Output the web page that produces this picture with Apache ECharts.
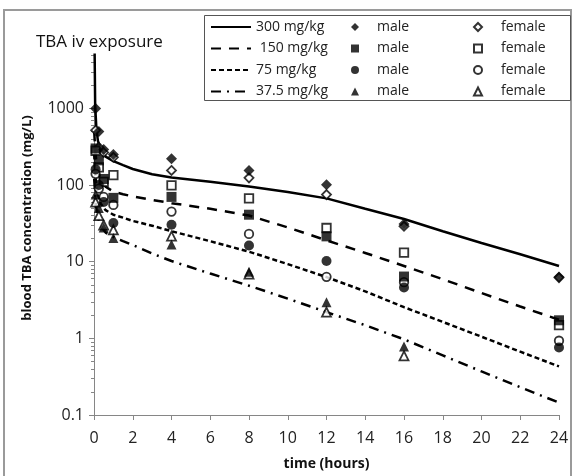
<!DOCTYPE html>
<html>
<head>
<meta charset="utf-8">
<script src="https://cdn.jsdelivr.net/npm/echarts@6/dist/echarts.min.js"></script>
<style>
html,body{margin:0;padding:0;background:#fff;}
#chart{width:573px;height:476px;}
</style>
</head>
<body>
<div id="chart"></div>
<script>
// ---- data ----
const sampleTimes = [0.083, 0.25, 0.5, 1, 4, 8, 12, 16, 24];
const male300   = [1000, 500, 290, 250, 220, 155, 101, 31, 6.3];
const female300 = [520, 310, 265, 230, 155, 124, 75, 29, 6.2];
const male150   = [300, 210, 120, 68, 70, 41, 21.4, 6.4, 1.72];
const female150 = [280, 170, 110, 135, 99, 67, 27.5, 13.1, 1.49];
const male75    = [160, 100, 60, 32, 30.3, 16.3, 10.2, 4.6, 0.76];
const female75  = [140, 90, 70, 55, 45, 23, 6.35, 5.4, 0.93];
const male37    = [75, 50, 28, 20.4, 16.7, 7.4, 2.96, 0.78, null];
const female37  = [60, 40, 30, 26, 21.5, 6.9, 2.2, 0.59, null];

const curveTimes = [0.01, 0.06, 0.12, 0.2, 0.35, 0.6, 1, 1.5, 2, 3, 4, 6, 8, 10, 12, 14, 16, 18, 20, 22, 24];
const fit300  = [20000, 1100, 560, 380, 285, 235, 205, 182, 162, 138, 125, 110, 96, 81, 67, 49, 36, 25, 17.5, 12.5, 8.8];
const fit150  = [500, 300, 200, 150, 115, 95, 82, 76, 71, 64, 58, 49, 40, 28, 19, 13, 8.8, 5.9, 3.9, 2.6, 1.75];
const fit75   = [250, 150, 100, 75, 57, 47, 41, 37.5, 34, 29.5, 25, 18.5, 13.5, 9.3, 6.3, 4.1, 2.55, 1.64, 1.05, 0.67, 0.43];
const fit37   = [120, 75, 50, 38, 29, 24, 21, 18.5, 16.5, 12.8, 10.2, 7.0, 4.86, 3.3, 2.2, 1.48, 0.97, 0.6, 0.37, 0.23, 0.145];

const doseLabels = ['300 mg/kg', ' 150 mg/kg', '75 mg/kg', '37.5 mg/kg'];
const xTicks = [0, 2, 4, 6, 8, 10, 12, 14, 16, 18, 20, 22, 24];
const yMajor = [0.1, 1, 10, 100, 1000];
const yMinorMult = [2, 3, 4, 5, 6, 7, 8, 9];

const FONT = 'Open Sans';
const AX = '#868686';

function pairs(ts, vs){ return ts.map((t,i)=>[t, vs[i]]).filter(p=>p[1]!=null); }
const yMinor = [];
yMajor.slice(0,4).forEach(d=>yMinorMult.forEach(m=>yMinor.push(+(d*m).toPrecision(3))));
[2,3,4,5].forEach(m=>yMinor.push(1000*m));

const lineStyles = [
  {type:'solid', width:2.5},
  {type:[10,8], width:2.5},
  {type:[5,3], width:2.5},
  {type:[10,6,2,6], width:2.5}
];
const fits = [fit300, fit150, fit75, fit37];
const males = [male300, male150, male75, male37];
const females = [female300, female150, female75, female37];
const shapes = ['diamond', 'rect', 'circle', 'triangle'];
const mSize = [11, 10, 10, 10];
const fSize = [9, 8.5, 8.5, 9];

const series = [];
fits.forEach((f,i)=>{
  series.push({
    name: doseLabels[i], type:'line', data: pairs(curveTimes, f),
    showSymbol:false, symbol:'none', smooth:false, clip:true,
    lineStyle: Object.assign({color:'#000'}, lineStyles[i]),
    itemStyle:{color:'#000'}, z:2, silent:true
  });
});
females.forEach((d,i)=>{
  series.push({
    name: 'f'+i, type:'scatter', data: pairs(sampleTimes, d),
    symbol: shapes[i], symbolSize: fSize[i],
    itemStyle:{color:'#fff', borderColor:'#000', borderWidth:1.8}, z:3
  });
});
males.forEach((d,i)=>{
  series.push({
    name: 'm'+i, type:'scatter', data: pairs(sampleTimes, d),
    symbol: shapes[i], symbolSize: mSize[i],
    itemStyle:{color:'#000'}, z:4
  });
});

const legendCommon = {
  orient:'vertical', itemGap:7.5, selectedMode:false, top:15, z:60,
  textStyle:{fontFamily:FONT, fontSize:14, color:'#222'}
};

const chart = echarts.init(document.getElementById('chart'), null, {renderer:'canvas'});
chart.setOption({
  animation:false,
  backgroundColor:'#fff',
  title:{text:'TBA iv exposure', left:31, top:29,
    textStyle:{fontFamily:FONT, fontSize:17, fontWeight:'normal', color:'#111'}},
  grid:{left:94, right:14, top:54.8, bottom:57, containLabel:false},
  graphic:[
    {type:'rect', z:-10, shape:{x:4, y:10, width:567, height:480},
      style:{fill:'none', stroke:'#9a9a9a', lineWidth:2}},
    {type:'rect', z:50, shape:{x:204.5, y:15.5, width:366, height:85},
      style:{fill:'#fff', stroke:'#555', lineWidth:1}},
    {type:'text', z:60, x:27, y:218, rotation:Math.PI/2,
      style:{text:'blood TBA concentration (mg/L)', fontFamily:FONT, fontSize:13, fontWeight:'bold',
        fill:'#111', align:'center', verticalAlign:'middle'}}
  ],
  legend:[
    Object.assign({}, legendCommon, {left:205, itemWidth:40, itemHeight:14,
      itemStyle:{opacity:0},
      data: doseLabels.map(n=>({name:n}))}),
    Object.assign({}, legendCommon, {left:346, itemWidth:8, itemHeight:8,
      textStyle:Object.assign({}, legendCommon.textStyle, {padding:[0,0,0,13]}),
      data: [0,1,2,3].map(i=>({name:'m'+i})), formatter:()=>'male'}),
    Object.assign({}, legendCommon, {left:468, itemWidth:8, itemHeight:8,
      textStyle:Object.assign({}, legendCommon.textStyle, {padding:[0,0,0,14]}),
      data: [0,1,2,3].map(i=>({name:'f'+i})), formatter:()=>'female'})
  ],
  xAxis:{
    type:'value', min:0, max:24, interval:2,
    name:'time (hours)', nameLocation:'middle', nameGap:42,
    nameTextStyle:{fontFamily:FONT, fontSize:14, fontWeight:'bold', color:'#111'},
    axisLine:{show:true, onZero:false, lineStyle:{color:AX, width:1}},
    axisTick:{show:true, inside:false, length:5, lineStyle:{color:AX}},
    axisLabel:{fontFamily:FONT, fontSize:16, color:'#222', margin:15},
    splitLine:{show:false}
  },
  yAxis:[
    {
      type:'log', min:0.1, max:5000, logBase:10,
      axisLine:{show:true, lineStyle:{color:AX, width:1}},
      axisTick:{show:true, length:5, lineStyle:{color:AX}, customValues: yMajor},
      axisLabel:{fontFamily:FONT, fontSize:16, color:'#222', margin:10, customValues: yMajor,
        formatter: v => (v < 1 ? Number(v).toFixed(1) : String(Math.round(v)))},
      splitLine:{show:false}
    },
    {
      type:'log', min:0.1, max:5000, logBase:10, position:'left',
      axisLine:{show:false},
      axisTick:{show:true, length:3, lineStyle:{color:AX}, customValues: yMinor},
      axisLabel:{show:false},
      splitLine:{show:false}
    }
  ],
  series: series
});
</script>
</body>
</html>
